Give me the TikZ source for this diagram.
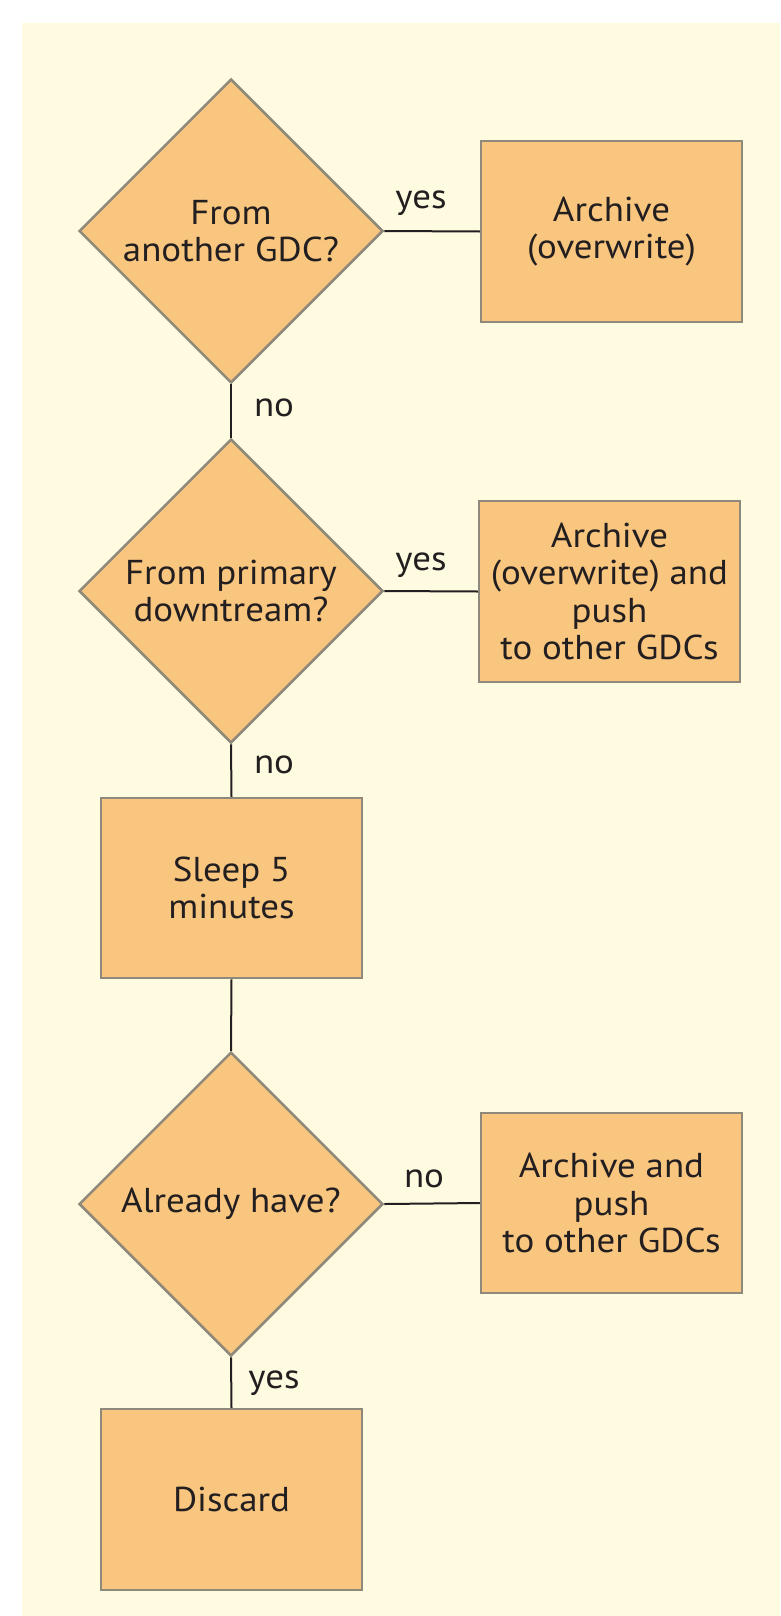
\documentclass[tikz,border=0pt]{standalone}
\usepackage{fontspec}
\setmainfont{PT Sans}[FakeStretch=1.07]
\usetikzlibrary{shapes.geometric}
\definecolor{paper}{RGB}{255,251,224}
\definecolor{boxfill}{RGB}{249,198,127}
\definecolor{boxline}{RGB}{142,137,122}
\definecolor{ink}{RGB}{35,31,32}
\tikzset{
  txt/.style={font=\fontsize{34.5}{37.5}\selectfont, text=ink},
  decision/.style={txt, diamond, aspect=1, draw=boxline, fill=boxfill,
    line width=2.5pt, minimum width=304pt, minimum height=304pt,
    inner sep=0pt, align=center},
  action/.style={txt, rectangle, draw=boxline, fill=boxfill,
    line width=2.5pt, minimum width=#1, inner sep=0pt, align=center},
  action/.default=261pt,
  link/.style={draw=ink, line width=2pt},
  tag/.style={txt, anchor=base, inner sep=0pt}
}
\begin{document}
\begin{tikzpicture}[x=1pt, y=-1pt]
  \useasboundingbox (0,0) rectangle (780,1616);
  \fill[paper] (22,23) rectangle (780,1616);

  % decisions down the left column
  \node[decision] (q1) at (231,231) {From\\another GDC?};
  \node[decision] (q2) at (231,591) {From primary\\downtream?};
  \node[decision] (q3) at (231,1204) {Already have?};

  % actions
  \node[action, minimum height=181pt] (a1) at (611.5,231.5) {Archive\\(overwrite)};
  \node[action, minimum height=181pt] (a2) at (609.5,591.5) {Archive\\(overwrite) and\\push\\to other GDCs};
  \node[action, minimum height=180pt] (sleep) at (231.5,888) {Sleep 5\\minutes};
  \node[action, minimum height=180pt] (a3) at (611.5,1203) {Archive and\\push\\to other GDCs};
  \node[action, minimum height=181pt] (drop) at (231.5,1499.5) {Discard};

  % connectors
  \draw[link] (q1.east) -- (a1.west);
  \draw[link] (q1.south) -- (q2.north);
  \draw[link] (q2.east) -- (a2.west);
  \draw[link] (q2.south) -- (sleep.north);
  \draw[link] (sleep.south) -- (q3.north);
  \draw[link] (q3.east) -- (a3.west);
  \draw[link] (q3.south) -- (drop.north);

  % branch labels
  \node[tag] (l1) at (421,208) {yes};
  \node[tag] (l2) at (274,416) {no};
  \node[tag] (l3) at (421,570) {yes};
  \node[tag] (l4) at (274,773) {no};
  \node[tag] (l5) at (424,1187) {no};
  \node[tag] (l6) at (274,1388) {yes};
\end{tikzpicture}
\end{document}
